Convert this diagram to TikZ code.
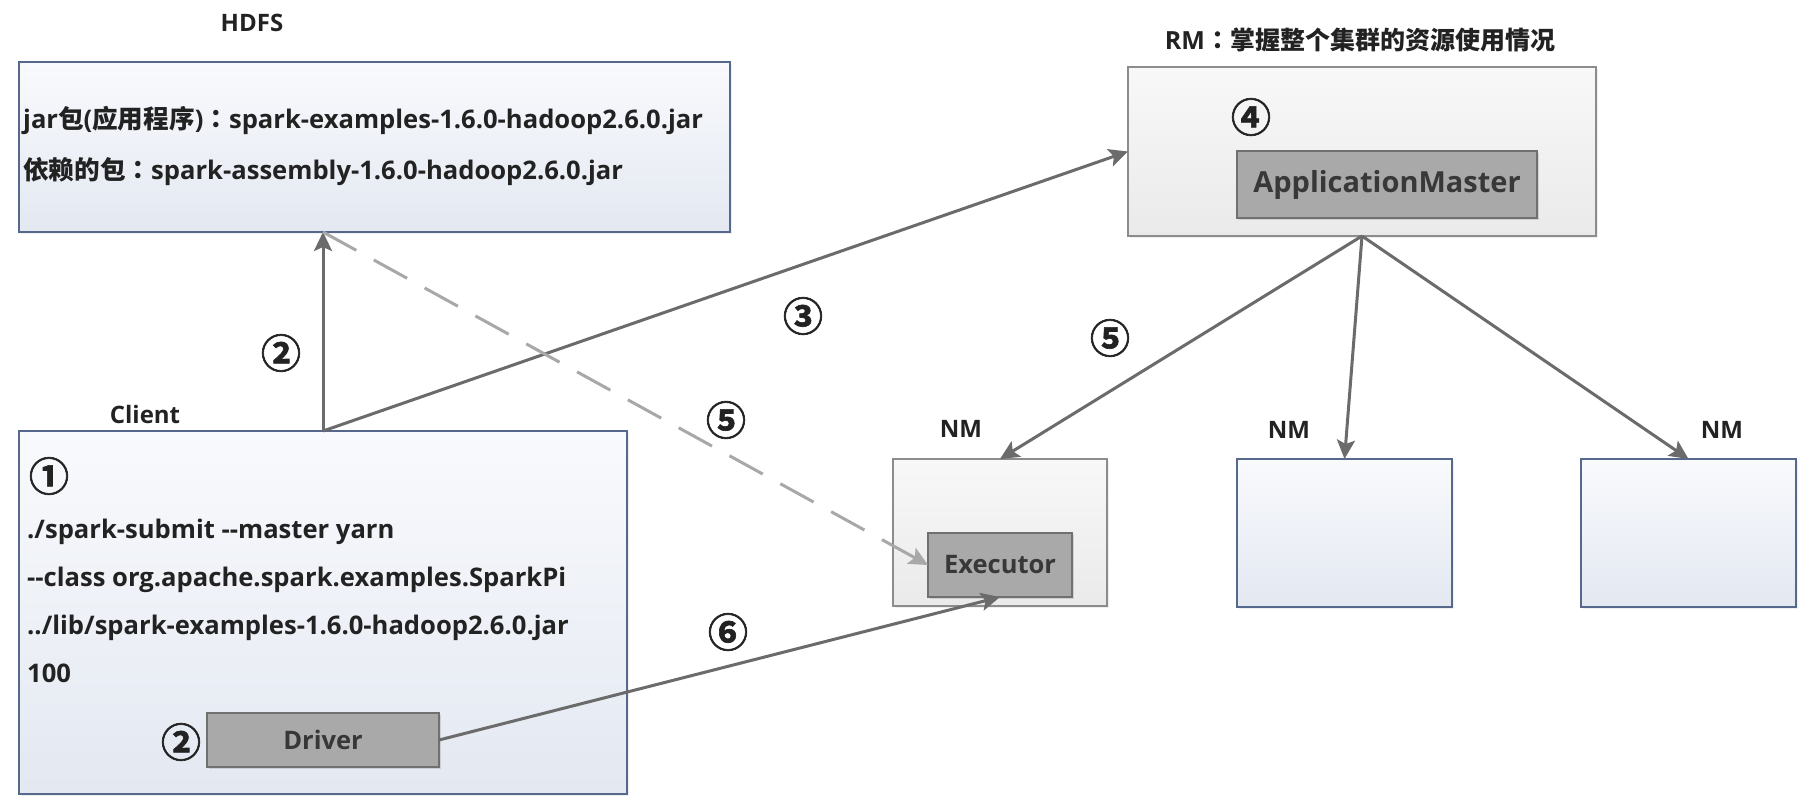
\documentclass[tikz,border=0pt]{standalone}
\usepackage{fontspec}
\setmainfont{Open Sans}[Ligatures=TeXOff]
\newfontfamily\cjk{Noto Sans CJK SC Bold}
\newfontfamily\cjkp{Noto Sans CJK TC Bold}
\newfontfamily\numfont{Noto Sans CJK SC Bold}[FakeBold=1.6]
\usetikzlibrary{arrows.meta,shadows}
\definecolor{txt}{HTML}{222222}
\definecolor{blueT}{HTML}{F9FAFD}
\definecolor{blueB}{HTML}{E3E8F1}
\definecolor{blueBd}{HTML}{56688C}
\definecolor{grayT}{HTML}{F8F8F8}
\definecolor{grayB}{HTML}{EAEAEA}
\definecolor{grayBd}{HTML}{8C8C8C}
\definecolor{darkF}{HTML}{A9A9A9}
\definecolor{darkBd}{HTML}{707070}
\definecolor{arrC}{HTML}{6B6B6B}
\definecolor{dashC}{HTML}{A8A8A8}
\tikzset{
  boxbase/.style={anchor=north west, inner sep=0pt, outer sep=0pt,
    drop shadow={shadow xshift=2pt, shadow yshift=-2pt, opacity=0.12}},
  bluebox/.style={boxbase, draw=blueBd, line width=1.3pt, top color=blueT, bottom color=blueB},
  graybox/.style={boxbase, draw=grayBd, line width=1.3pt, top color=grayT, bottom color=grayB},
  darkbox/.style={anchor=north west, inner sep=0pt, outer sep=0pt, draw=darkBd, line width=1.5pt,
    fill=darkF, text=txt!90, drop shadow={shadow xshift=2pt, shadow yshift=-2pt, opacity=0.25}},
  lbl/.style={inner sep=0pt, text=txt, font=\bfseries\fontsize{24}{29}\selectfont},
  body/.style={inner sep=0pt, text=txt, anchor=west, font=\bfseries\fontsize{25.6}{30}\selectfont},
  num/.style={inner sep=0pt, text=txt, font=\numfont\fontsize{40}{40}\selectfont},
  arr/.style={draw=arrC, line width=3pt, -{Stealth[length=19pt,width=18pt,inset=4pt]}},
  dasharr/.style={draw=dashC, line width=3pt, dash pattern=on 38pt off 20pt,
    -{Stealth[length=19pt,width=18pt,inset=4pt]}},
}
\begin{document}
\begin{tikzpicture}[x=1pt,y=-1pt]
\useasboundingbox[fill=white] (0,0) rectangle (1806,806);
% containers
\node[bluebox, minimum width=711pt, minimum height=170pt] (HDFS) at (19,62) {};
\node[bluebox, minimum width=608pt, minimum height=363pt] (Client) at (19,431) {};
\node[graybox, minimum width=468pt, minimum height=169pt] (RM) at (1128,67) {};
\node[graybox, minimum width=214pt, minimum height=147pt] (NM1) at (893,459) {};
\node[bluebox, minimum width=215pt, minimum height=148pt] (NM2) at (1237,459) {};
\node[bluebox, minimum width=215pt, minimum height=148pt] (NM3) at (1581,459) {};
% inner boxes
\node[darkbox, minimum width=300pt, minimum height=67pt, font=\bfseries\fontsize{29}{33}\selectfont] (AM) at (1237,151) {ApplicationMaster};
\node[darkbox, minimum width=144pt, minimum height=64pt, font=\bfseries\fontsize{25.5}{30}\selectfont] (Exec) at (928,533) {Executor};
\node[darkbox, minimum width=232pt, minimum height=54pt, font=\bfseries\fontsize{25.5}{30}\selectfont] (Driver) at (207,713) {Driver};
% connectors
\draw[arr] (Client.north) -- (Client.north |- HDFS.south);
\draw[arr] (Client.north) -- (RM.west);
\draw[dasharr] (Client.north |- HDFS.south) -- (Exec.west);
\draw[arr] (RM.south) -- (NM1.north);
\draw[arr] (RM.south) -- (NM2.north);
\draw[arr] (RM.south) -- (NM3.north);
\draw[arr] (Driver.east) -- (Exec.south);
% titles
\node[lbl] (tHDFS) at (252,23) {HDFS};
\node[lbl, font=\bfseries\fontsize{25}{30}\selectfont] (tRM) at (1360,40) {RM{\cjkp ：}{\cjk 掌握整个集群的资源使用情况}};
\node[lbl] (tClient) at (145,414) {Client};
\node[lbl] (tNM1) at (961,429) {NM};
\node[lbl] (tNM2) at (1289,430) {NM};
\node[lbl] (tNM3) at (1722,430) {NM};
% HDFS text
\node[body] (h1) at (23,120) {jar{\cjk 包}({\cjk 应用程序}){\cjkp ：}spark-examples-1.6.0-hadoop2.6.0.jar};
\node[body] (h2) at (23,172) {{\cjk 依赖的包}{\cjkp ：}spark-assembly-1.6.0-hadoop2.6.0.jar};
% Client text
\node[body] (c1) at (27,532) {./spark-submit --master yarn};
\node[body] (c2) at (27,580) {--class org.apache.spark.examples.SparkPi};
\node[body] (c3) at (27,628) {../lib/spark-examples-1.6.0-hadoop2.6.0.jar};
\node[body] (c4) at (27,673) {100};
% step numbers
\node[num] (n1) at (49,476) {①};
\node[num] (n2a) at (281,353) {②};
\node[num] (n2b) at (181,742) {②};
\node[num] (n3) at (803,316) {③};
\node[num] (n4) at (1251,117) {④};
\node[num] (n5a) at (726,420) {⑤};
\node[num] (n5b) at (1110,338) {⑤};
\node[num] (n6) at (728,632) {⑥};
\end{tikzpicture}
\end{document}
